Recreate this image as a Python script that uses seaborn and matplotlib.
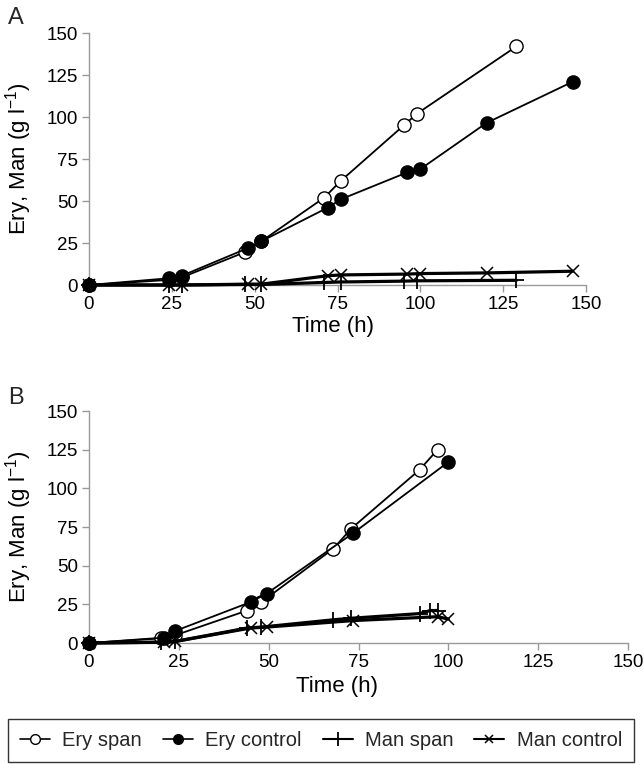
import matplotlib
matplotlib.use("Agg")
import matplotlib.pyplot as plt
import seaborn as sns
from matplotlib.lines import Line2D

# ---- Panel A data ----
t_ery_span_A = [0, 24, 28, 47, 52, 71, 76, 95, 99, 129]
ery_span_A = [0, 3, 4.5, 19.5, 26, 52, 62, 95, 102, 142]
t_ery_ctrl_A = [0, 24, 28, 48, 52, 72, 76, 96, 100, 120, 146]
ery_ctrl_A = [0, 4, 5.5, 22, 26, 46, 51, 67, 69, 96.5, 121]
t_man_span_A = [0, 24, 28, 47, 52, 71, 76, 95, 99, 129]
man_span_A = [0, 0, 0, 0.3, 0.3, 1.5, 1.8, 2.3, 2.5, 2.8]
t_man_ctrl_A = [0, 24, 28, 48, 52, 72, 76, 96, 100, 120, 146]
man_ctrl_A = [0, 0, 0, 0.5, 0.5, 5.5, 6, 6.5, 6.8, 7.2, 8.2]

# ---- Panel B data ----
t_ery_span_B = [0, 20, 24, 44, 48, 68, 73, 92, 97]
ery_span_B = [0, 3, 5, 21, 26.5, 61, 74, 112, 125]
t_ery_ctrl_B = [0, 21, 24, 45, 49.5, 73.5, 100]
ery_ctrl_B = [0, 3.5, 7.8, 26.5, 32, 71, 117]
t_man_span_B = [0, 20, 24, 44, 48, 68, 73, 92, 95, 97]
man_span_B = [0, 0.5, 1, 9.7, 10.3, 15, 16, 19, 21, 21]
t_man_ctrl_B = [0, 21, 24, 45, 49.5, 73.5, 97, 100]
man_ctrl_B = [0, 0.5, 1, 9.7, 10.3, 14.5, 17, 15.5]

ticks = [0, 25, 50, 75, 100, 125, 150]
legend_labels = ["Ery span", "Ery control", "Man span", "Man control"]

sns.set_theme(style="white")
plt.rcParams['font.family'] = ['Liberation Sans', 'DejaVu Sans']
plt.rcParams['mathtext.fontset'] = 'custom'
plt.rcParams['mathtext.rm'] = 'Liberation Sans'
plt.rcParams['mathtext.it'] = 'Liberation Sans'

fig = plt.figure(figsize=(6.44, 7.64), dpi=100)
W, H = 644, 764
axA = fig.add_axes([89 / W, 1 - 285 / H, (586 - 89) / W, (285 - 33) / H])
axB = fig.add_axes([89 / W, 1 - 643 / H, (628 - 89) / W, (643 - 411) / H])

styles = {
    "ery_span": dict(marker='o', markerfacecolor='white', markeredgecolor='black',
                     markersize=9.5, markeredgewidth=1.0, linewidth=1.3),
    "ery_ctrl": dict(marker='o', markerfacecolor='black', markeredgecolor='black',
                     markersize=9.5, markeredgewidth=1.0, linewidth=1.3),
    "man_span": dict(marker='+', markersize=11, markeredgewidth=1.3,
                     markeredgecolor='black', linewidth=2.3),
    "man_ctrl": dict(marker='x', markersize=9, markeredgewidth=1.1,
                     markeredgecolor='black', linewidth=2.3),
}


def draw(ax, series):
    for (t, v, key) in series:
        sns.lineplot(x=t, y=v, ax=ax, color='black', sort=False, clip_on=False,
                     zorder=3, **styles[key])
    ax.set_xlim(0, 150)
    ax.set_ylim(0, 150)
    ax.set_xticks(ticks)
    ax.set_yticks(ticks)
    ax.set_xticklabels([str(x) for x in ticks])
    ax.set_yticklabels([str(x) for x in ticks])
    for s in ['top', 'right']:
        ax.spines[s].set_visible(False)
    for s in ['left', 'bottom']:
        ax.spines[s].set_color('#999999')
        ax.spines[s].set_linewidth(1.0)
    ax.tick_params(axis='both', which='major', length=5, width=1.0, color='#999999',
                   labelsize=13.5, labelcolor='black', direction='out', pad=3,
                   bottom=True, left=True)
    ax.set_xlabel("Time (h)", fontsize=16, color='black')
    ax.set_ylabel("Ery, Man (g l$^{\\mathregular{-1}}$)", fontsize=16, color='black')
    ax.grid(False)


draw(axA, [(t_ery_span_A, ery_span_A, "ery_span"), (t_ery_ctrl_A, ery_ctrl_A, "ery_ctrl"),
           (t_man_span_A, man_span_A, "man_span"), (t_man_ctrl_A, man_ctrl_A, "man_ctrl")])
draw(axB, [(t_ery_span_B, ery_span_B, "ery_span"), (t_ery_ctrl_B, ery_ctrl_B, "ery_ctrl"),
           (t_man_span_B, man_span_B, "man_span"), (t_man_ctrl_B, man_ctrl_B, "man_ctrl")])

axA.xaxis.set_label_coords(0.49, (285 - 316) / 252)
axB.xaxis.set_label_coords(0.46, (643 - 676) / 232)
axA.yaxis.set_label_coords((34 - 89) / 497, 0.5)
axB.yaxis.set_label_coords((34 - 89) / 539, 0.5)

fig.text(8 / W, 1 - 18 / H, "A", fontsize=17, va='center', ha='left')
fig.text(8 / W, 1 - 398 / H, "B", fontsize=17, va='center', ha='left')

handles = [
    Line2D([], [], color='black', **dict(styles["ery_span"], markersize=7, linewidth=1.2)),
    Line2D([], [], color='black', **dict(styles["ery_ctrl"], markersize=7, linewidth=1.2)),
    Line2D([], [], color='black', **dict(styles["man_span"], markersize=10, linewidth=1.5)),
    Line2D([], [], color='black', **dict(styles["man_ctrl"], markersize=6, linewidth=1.5)),
]
leg = fig.legend(handles, legend_labels, loc='lower left', ncol=4,
                 bbox_to_anchor=(8 / W, 2 / H, (634 - 8) / W, 48 / H), mode='expand',
                 borderaxespad=0, frameon=True, fancybox=False, fontsize=14.5,
                 handlelength=1.5, handletextpad=0.6, borderpad=0.6, columnspacing=0.6)
leg.get_frame().set_edgecolor('black')
leg.get_frame().set_linewidth(1.0)

fig.savefig("out.png", dpi=100)
